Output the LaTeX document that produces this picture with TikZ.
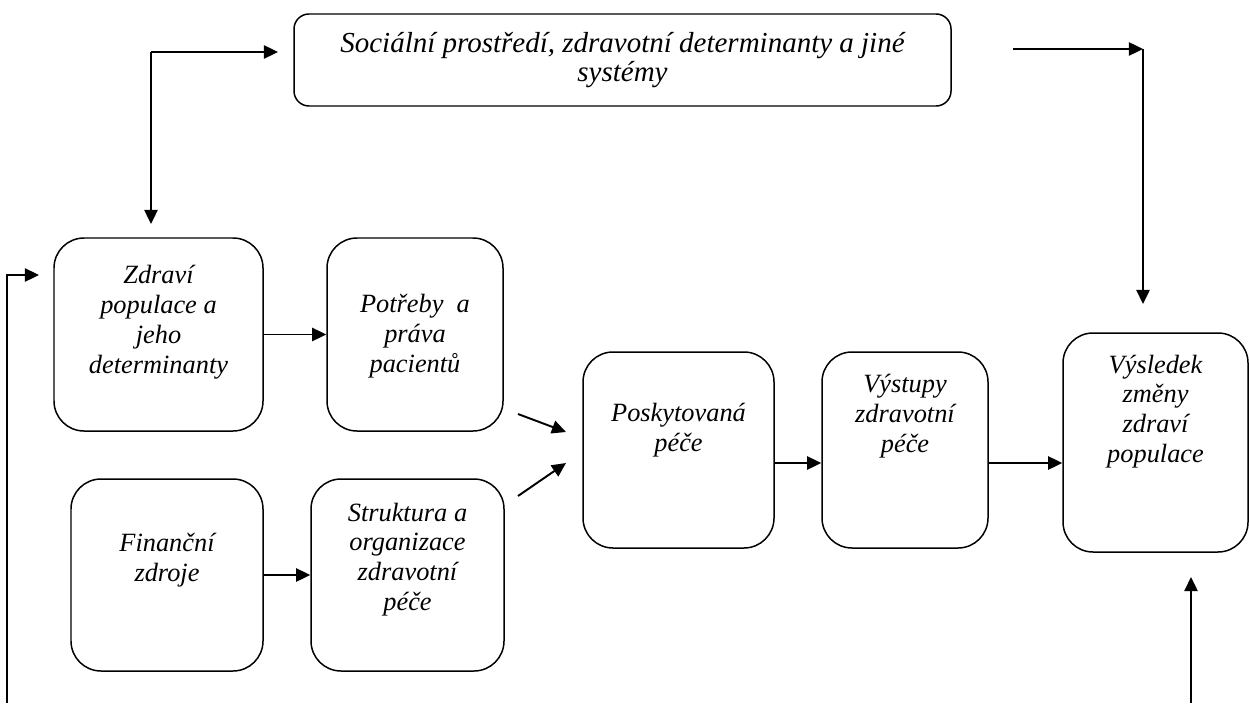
\documentclass[tikz,border=0pt]{standalone}
\usepackage{fontspec}
\setmainfont{Liberation Serif}
\usetikzlibrary{arrows.meta}
\tikzstyle{box}=[draw, line width=0.85pt, rounded corners=0.6cm, inner sep=0pt]
\tikzstyle{txt}=[align=center, inner sep=0pt, font=\fontsize{15}{17}\selectfont\itshape]
\tikzstyle{arr}=[line width=1.1pt, -{Triangle[length=8pt,width=7.5pt]}]

\begin{document}
\begin{tikzpicture}
        \useasboundingbox (0,0) rectangle (24.98,-14.06);
            \node [box, rounded corners=0.3cm, minimum width=13.14cm, minimum height=1.84cm] (soc) at (12.45,-1.2) {};
            \node [box, minimum width=4.18cm, minimum height=3.86cm] (zdr) at (3.17,-6.69) {};
            \node [box, minimum width=3.52cm, minimum height=3.86cm] (pot) at (8.3,-6.69) {};
            \node [box, minimum width=3.84cm, minimum height=3.84cm] (fin) at (3.34,-11.5) {};
            \node [box, minimum width=3.86cm, minimum height=3.84cm] (str) at (8.15,-11.5) {};
            \node [box, minimum width=3.82cm, minimum height=3.92cm] (pos) at (13.57,-9.0) {};
            \node [box, minimum width=3.32cm, minimum height=3.92cm] (vys) at (18.1,-9.0) {};
            \node [box, minimum width=3.7cm, minimum height=4.38cm] (vsl) at (23.11,-8.85) {};
            % texts
            \node [txt, font=\fontsize{16.5}{17}\selectfont\itshape] (soc-t) at (12.45,-1.2) {Sociální prostředí, zdravotní determinanty a jiné\\systémy};
            \node [txt] (zdr-t) at (3.17,-6.44) {Zdraví\\populace a\\jeho\\determinanty};
            \node [txt] (pot-t) at (8.3,-6.72) {Potřeby~ a\\práva\\pacientů};
            \node [txt] (fin-t) at (3.34,-11.21) {Finanční\\zdroje};
            \node [txt] (str-t) at (8.15,-11.19) {Struktura a\\organizace\\zdravotní\\péče};
            \node [txt] (pos-t) at (13.57,-8.61) {Poskytovaná\\péče};
            \node [txt] (vys-t) at (18.1,-8.33) {Výstupy\\zdravotní\\péče};
            \node [txt] (vsl-t) at (23.11,-8.23) {Výsledek\\změny\\zdraví\\populace};
            % free ends of the connectors
            \coordinate (tl) at (3.02,-1.04);
            \coordinate (tlr) at (5.56,-1.04);
            \coordinate (tld) at (3.02,-4.48);
            \coordinate (tr0) at (20.26,-0.98);
            \coordinate (tr) at (22.86,-0.98);
            \coordinate (trd) at (22.86,-6.08);
            \coordinate (lb) at (0.14,-14.06);
            \coordinate (lt) at (0.14,-5.5);
            \coordinate (ltr) at (0.78,-5.5);
            \coordinate (rb) at (23.82,-14.06);
            \coordinate (rbu) at (23.82,-11.54);
            \coordinate (p0) at (10.36,-8.28);
            \coordinate (p1) at (11.32,-8.64);
            \coordinate (s0) at (10.36,-9.92);
            \coordinate (s1) at (11.32,-9.26);
            \draw [arr] (tl) -- (tlr);
            \draw [arr] (tl) -- (tld);
            \draw [arr] (tr0) -- (tr);
            \draw [arr] (tr) -- (trd);
            \draw [arr] (lb) -- (lt) -- (ltr);
            \draw [arr] (rb) -- (rbu);
            \draw [arr] (p0) -- (p1);
            \draw [arr] (s0) -- (s1);
            \draw [arr] (zdr) -- (pot);
            \draw [arr] (fin) -- (str);
            \draw [arr] ([yshift=-0.26cm]pos.east) -- ([yshift=-0.26cm]vys.west);
            \draw [arr] ([yshift=-0.26cm]vys.east) -- ([yshift=-0.26cm]vys.east -| vsl.west);
        \end{tikzpicture}
\end{document}
